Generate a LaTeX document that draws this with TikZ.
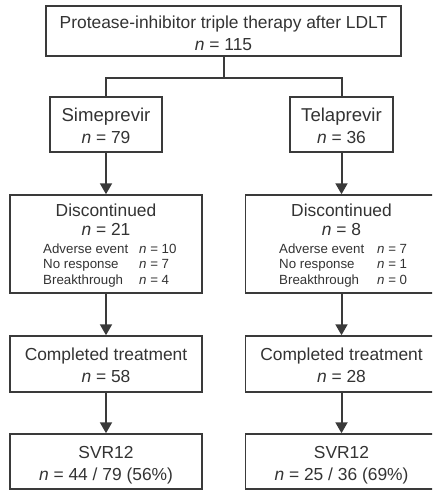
\documentclass[tikz,border=0pt]{standalone}
\usepackage{fontspec}
\setmainfont{Liberation Sans}
\usetikzlibrary{arrows.meta}
\definecolor{ln}{HTML}{3A3A3A}
\definecolor{tx}{HTML}{333333}
\begin{document}
\begin{tikzpicture}[x=1pt,y=-1pt,
  box/.style={draw=ln,line width=1.5pt,inner sep=0pt},
  big/.style={font=\fontsize{17.4}{20}\selectfont,text=tx,anchor=base,inner sep=0pt},
  head/.style={font=\fontsize{18.6}{21}\selectfont,text=tx,anchor=base,inner sep=0pt},
  small/.style={font=\fontsize{13.3}{15}\selectfont,text=tx,anchor=base west,inner sep=0pt},
  conn/.style={draw=ln,line width=2pt},
  arr/.style={draw=ln,line width=2pt,-{Triangle[width=12pt,length=11pt]}}]
\useasboundingbox (0,0) rectangle (432,490);
\clip (0,0) rectangle (432,490);
% boxes
\node[box,minimum width=355pt,minimum height=50pt] (top) at (223.5,31) {};
\node[box,minimum width=112pt,minimum height=55pt] (sime) at (106,124.5) {};
\node[box,minimum width=103pt,minimum height=55pt] (tela) at (341.5,124.5) {};
\node[box,minimum width=192pt,minimum height=98pt] (discL) at (106,244) {};
\node[box,minimum width=192pt,minimum height=98pt] (discR) at (341.5,244) {};
\node[box,minimum width=192pt,minimum height=56pt] (compL) at (106,364) {};
\node[box,minimum width=192pt,minimum height=56pt] (compR) at (341.5,364) {};
\node[box,minimum width=192pt,minimum height=55pt] (svrL) at (106,461.5) {};
\node[box,minimum width=192pt,minimum height=55pt] (svrR) at (341.5,461.5) {};
% texts
\node[big] (t1) at (223.5,28) {Protease-inhibitor triple therapy after LDLT};
\node[big] (t2) at (223.5,50) {\textit{n} = 115};
\node[head] (s1) at (106,121) {Simeprevir};
\node[big] (s2) at (106,143) {\textit{n} = 79};
\node[head] (p1) at (341.5,121) {Telaprevir};
\node[big] (p2) at (341.5,143) {\textit{n} = 36};
\node[big] (dl1) at (106,216) {Discontinued};
\node[big] (dl2) at (106,235) {\textit{n} = 21};
\node[small] (dl3) at (43,253) {Adverse event};
\node[small] (dl4) at (43,268) {No response};
\node[small] (dl5) at (43,284) {Breakthrough};
\node[small] (dl6) at (139,253) {\textit{n} = 10};
\node[small] (dl7) at (139,268) {\textit{n} = 7};
\node[small] (dl8) at (139,284) {\textit{n} = 4};
\node[big] (dr1) at (341.5,216) {Discontinued};
\node[big] (dr2) at (341.5,235) {\textit{n} = 8};
\node[small] (dr3) at (279,253) {Adverse event};
\node[small] (dr4) at (279,268) {No response};
\node[small] (dr5) at (279,284) {Breakthrough};
\node[small] (dr6) at (377,253) {\textit{n} = 7};
\node[small] (dr7) at (377,268) {\textit{n} = 1};
\node[small] (dr8) at (377,284) {\textit{n} = 0};
\node[big] (cl1) at (106,360) {Completed treatment};
\node[big] (cl2) at (106,382) {\textit{n} = 58};
\node[big] (cr1) at (341.5,360) {Completed treatment};
\node[big] (cr2) at (341.5,382) {\textit{n} = 28};
\node[big] (vl1) at (106,458) {SVR12};
\node[big] (vl2) at (106,480) {\textit{n} = 44 / 79 (56\%)};
\node[big] (vr1) at (341.5,458) {SVR12};
\node[big] (vr2) at (341.5,480) {\textit{n} = 25 / 36 (69\%)};
% connectors
\coordinate (j) at (223.5,78);
\draw[conn] (top.south) -- (j);
\draw[conn] (sime.north) |- (j) -| (tela.north);
\draw[arr] (sime.south) -- (discL.north);
\draw[arr] (tela.south) -- (discR.north);
\draw[arr] (discL.south) -- (compL.north);
\draw[arr] (discR.south) -- (compR.north);
\draw[arr] (compL.south) -- (svrL.north);
\draw[arr] (compR.south) -- (svrR.north);
\end{tikzpicture}
\end{document}
